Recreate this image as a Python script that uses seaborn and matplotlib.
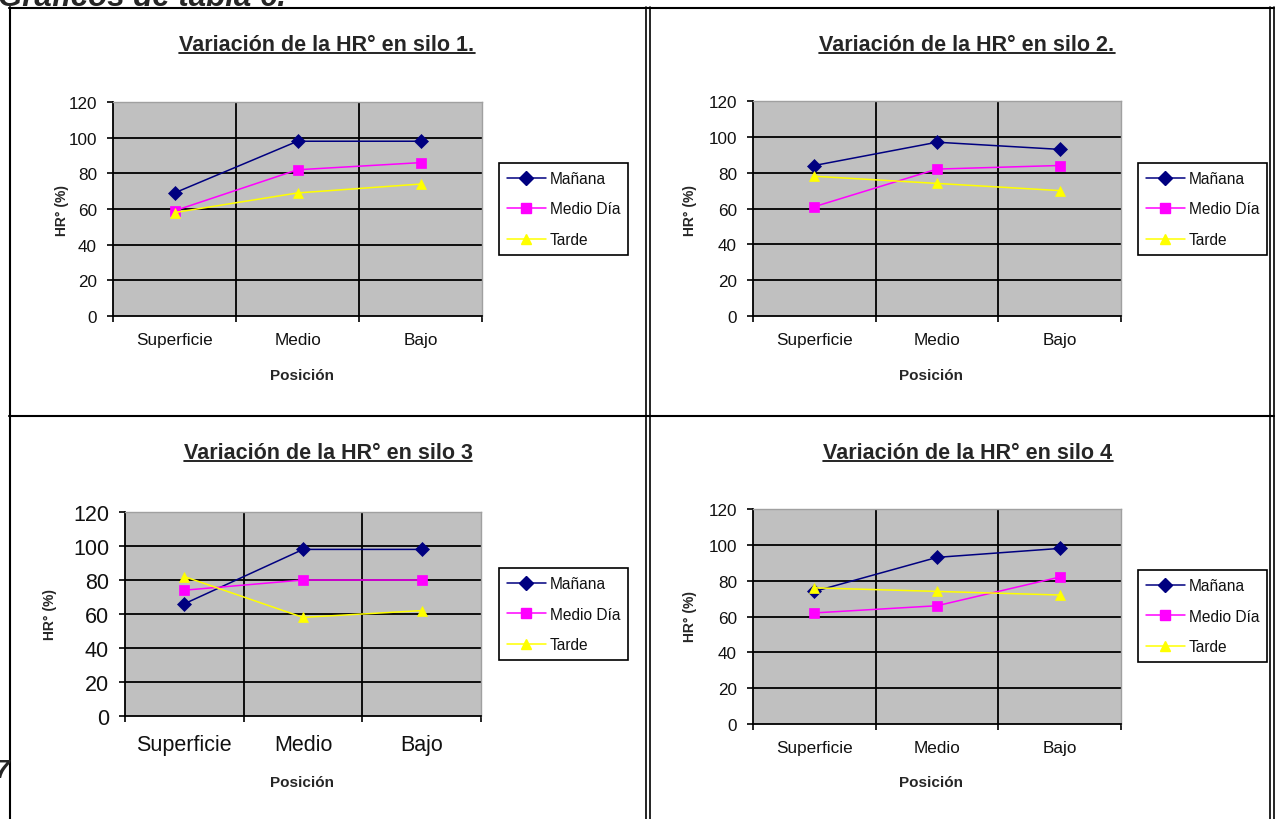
import matplotlib
matplotlib.use("Agg")
import matplotlib.pyplot as plt
import seaborn as sns
import pandas as pd
from matplotlib.lines import Line2D
from matplotlib import font_manager

# ---------------- data ----------------
positions = ["Superficie", "Medio", "Bajo"]
series_names = ["Mañana", "Medio Día", "Tarde"]
titles = ["Variación de la HR° en silo 1.", "Variación de la HR° en silo 2.",
          "Variación de la HR° en silo 3", "Variación de la HR° en silo 4"]

silo1_manana = [69, 98, 98]
silo1_mediodia = [59, 82, 86]
silo1_tarde = [58, 69, 74]

silo2_manana = [84, 97, 93]
silo2_mediodia = [61, 82, 84]
silo2_tarde = [78, 74, 70]

silo3_manana = [66, 98, 98]
silo3_mediodia = [74, 80, 80]
silo3_tarde = [82, 58, 62]

silo4_manana = [74, 93, 98]
silo4_mediodia = [62, 66, 82]
silo4_tarde = [76, 74, 72]

y_ticks = [0, 20, 40, 60, 80, 100, 120]

silos = [
    (silo1_manana, silo1_mediodia, silo1_tarde),
    (silo2_manana, silo2_mediodia, silo2_tarde),
    (silo3_manana, silo3_mediodia, silo3_tarde),
    (silo4_manana, silo4_mediodia, silo4_tarde),
]

# ---------------- style ----------------
sns.set_theme(style="white")
plt.rcParams['font.family'] = ['Liberation Sans', 'DejaVu Sans']

try:
    font_manager.findfont(font_manager.FontProperties(family='Liberation Sans Narrow', weight='bold'),
                          fallback_to_default=False)
    TITLE_FAMILY = ['Liberation Sans Narrow', 'Liberation Sans', 'DejaVu Sans']
except Exception:
    TITLE_FAMILY = ['Liberation Sans', 'DejaVu Sans']

W, H = 1275, 820
fig = plt.figure(figsize=(W / 100, H / 100), dpi=100)
fig.patch.set_facecolor("white")

palette = {"Mañana": "#000080", "Medio Día": "#FF00FF", "Tarde": "#FFFF00"}
markers = {"Mañana": "D", "Medio Día": "s", "Tarde": "^"}


def fx(px):
    return px / W


def fy(py):
    return 1 - py / H


def add_axes_px(l, t, r, b):
    return fig.add_axes([fx(l), fy(b), fx(r - l), (b - t) / H])


def fit_text(x, y, s, target_w, fs0, **kw):
    t = fig.text(fx(x), fy(y), s, fontsize=fs0, **kw)
    r = fig.canvas.get_renderer()
    w = t.get_window_extent(renderer=r).width
    t.set_fontsize(fs0 * target_w / w)
    return t


# layout (pixels)
layouts = [
    dict(ax=(113, 103, 482, 317), title=(327, 51), legend=(499, 210), ylab=(62, 210), xlab=(302, 376),
         fs=12.3, xpad=11.5),
    dict(ax=(753, 102, 1121, 317), title=(967, 51), legend=(1138, 210), ylab=(690, 210), xlab=(931, 376),
         fs=12.3, xpad=11.5),
    dict(ax=(125, 513, 481, 717), title=(328, 459), legend=(499, 615), ylab=(50, 615), xlab=(302, 783),
         fs=15.5, xpad=13),
    dict(ax=(753, 510, 1121, 725), title=(968, 459), legend=(1138, 617), ylab=(690, 617), xlab=(931, 783),
         fs=12.3, xpad=11.5),
]

fig.canvas.draw()
title_fs = None

for (man, med, tar), title, lay in zip(silos, titles, layouts):
    df = pd.DataFrame({
        "Posición": positions * 3,
        "HR": man + med + tar,
        "Serie": [series_names[0]] * 3 + [series_names[1]] * 3 + [series_names[2]] * 3,
    })
    ax = add_axes_px(*lay["ax"])
    ax.set_facecolor("#c0c0c0")
    sns.lineplot(data=df, x="Posición", y="HR", hue="Serie", style="Serie",
                 palette=palette, markers=markers, dashes=False, sort=False,
                 linewidth=1.1, markersize=7, markeredgewidth=0.5, ax=ax, legend=False)
    for ln in ax.get_lines():
        ln.set_markeredgecolor(ln.get_color())
        ln.set_zorder(3)

    ax.set_xlim(-0.5, 2.5)
    ax.set_ylim(0, 120)
    ax.set_yticks(y_ticks)
    ax.set_xticks([0, 1, 2])
    ax.set_xticklabels(positions)
    ax.set_xticks([-0.5, 0.5, 1.5, 2.5], minor=True)
    ax.tick_params(axis="x", which="major", length=0, pad=lay["xpad"], labelsize=lay["fs"],
                   colors="#111111")
    ax.tick_params(axis="x", which="minor", length=4.5, width=1.2, color="black", direction="out",
                   bottom=True)
    ax.tick_params(axis="y", which="major", length=4.5, width=1.2, color="black", direction="out",
                   left=True, labelsize=lay["fs"], labelcolor="#111111", pad=7)
    ax.set_xlabel("")
    ax.set_ylabel("")

    # grid
    for yv in y_ticks[1:]:
        ax.axhline(yv, color="black", lw=1.3, zorder=1)
    for xv in [0.5, 1.5]:
        ax.axvline(xv, color="black", lw=1.3, zorder=1)

    ax.spines["left"].set_color("black")
    ax.spines["left"].set_linewidth(1.3)
    ax.spines["bottom"].set_color("black")
    ax.spines["bottom"].set_linewidth(1.3)
    for sp in ("top", "right"):
        ax.spines[sp].set_color("#a0a0a0")
        ax.spines[sp].set_linewidth(1.0)

    # legend
    handles = [Line2D([0], [0], color=palette[s], marker=markers[s], markersize=7,
                      markeredgecolor=palette[s], lw=1.1) for s in series_names]
    lg = ax.legend(handles, series_names, loc="center left",
                   bbox_to_anchor=(fx(lay["legend"][0]), fy(lay["legend"][1])),
                   bbox_transform=fig.transFigure, frameon=True, fancybox=False,
                   edgecolor="black", facecolor="white", framealpha=1,
                   fontsize=11.2, handlelength=2.5, handletextpad=0.25,
                   labelspacing=1.0, borderpad=0.5, borderaxespad=0)
    lg.get_frame().set_linewidth(1.2)
    for txt in lg.get_texts():
        txt.set_color("#111111")

    # axis labels
    fig.text(fx(lay["ylab"][0]), fy(lay["ylab"][1]), "HR° (%)", rotation=90,
             ha="center", va="center", fontsize=10, fontweight="bold")
    fig.text(fx(lay["xlab"][0]), fy(lay["xlab"][1]), "Posición",
             ha="center", va="center", fontsize=11, fontweight="bold")

    # title (underlined)
    if title_fs is None:
        t = fit_text(lay["title"][0], lay["title"][1], title, 294, 13, ha="center", va="baseline",
                     fontweight="bold", family=TITLE_FAMILY)
        title_fs = t.get_fontsize()
    else:
        t = fig.text(fx(lay["title"][0]), fy(lay["title"][1]), title, ha="center", va="baseline",
                     fontsize=title_fs, fontweight="bold", family=TITLE_FAMILY)
    bb = t.get_window_extent(renderer=fig.canvas.get_renderer())
    uy = fy(lay["title"][1] + 3)
    fig.add_artist(Line2D([bb.x0 / W, bb.x1 / W], [uy, uy],
                          transform=fig.transFigure, color="black", lw=1.2))

# page header (partly cut off at the top, as in the source page)
fit_text(-2, 6, "Gráficos de tabla 6.", 289, 18, ha="left", va="baseline",
         fontweight="bold", fontstyle="italic")
fig.text(fx(9), fy(778), "7", ha="right", va="baseline",
         fontsize=19, fontweight="bold", fontstyle="italic")

# table borders
def hline(y, x0, x1, lw=1.5):
    fig.add_artist(Line2D([fx(x0), fx(x1)], [fy(y), fy(y)], transform=fig.transFigure,
                          color="black", lw=lw))


def vline(x, y0, y1, lw=1.5):
    fig.add_artist(Line2D([fx(x), fx(x)], [fy(y0), fy(y1)], transform=fig.transFigure,
                          color="black", lw=lw))


hline(8.5, 9, 1274)
hline(416.5, 9, 1274)
vline(10, 8, 820)
vline(646, 8, 820, lw=1.2)
vline(650, 8, 820, lw=1.2)
vline(1270, 8, 820, lw=1.2)
vline(1273.5, 8, 820, lw=1.2)

fig.savefig("out.png", dpi=100, facecolor="white")
